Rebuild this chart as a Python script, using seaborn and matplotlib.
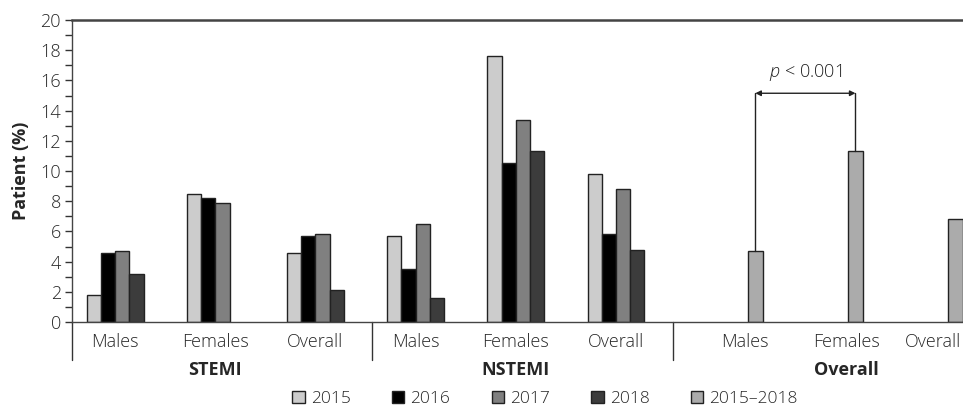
import numpy as np
import pandas as pd
import matplotlib.pyplot as plt
import matplotlib.transforms as mtransforms
from matplotlib.patches import Patch
import seaborn as sns

# data (patient %)
GROUPS = ["STEMI", "NSTEMI", "Overall"]
SUBGROUPS = ["Males", "Females", "Overall"]
YEARS = ["2015", "2016", "2017", "2018"]
POOLED = "2015–2018"

stemi_2015 = [1.8, 8.5, 4.6]
stemi_2016 = [4.6, 8.2, 5.7]
stemi_2017 = [4.7, 7.9, 5.8]
stemi_2018 = [3.2, np.nan, 2.1]

nstemi_2015 = [5.7, 17.6, 9.8]
nstemi_2016 = [3.5, 10.5, 5.8]
nstemi_2017 = [6.5, 13.4, 8.8]
nstemi_2018 = [1.6, 11.3, 4.8]

overall_2015_2018 = [4.7, 11.3, 6.8]

COLORS = {"2015": "#cccccc", "2016": "#000000", "2017": "#808080",
          "2018": "#3c3c3c", POOLED: "#ababab"}

# the pooled bars sit in the last slot of a 5-wide cluster
POOLED_OFFSET = 0.39

keys = [f"{g}|{s}" for g in GROUPS for s in SUBGROUPS]

rows = []
yearly = {
    "STEMI": [stemi_2015, stemi_2016, stemi_2017, stemi_2018],
    "NSTEMI": [nstemi_2015, nstemi_2016, nstemi_2017, nstemi_2018],
}
for grp, series in yearly.items():
    for year, vals in zip(YEARS, series):
        for sub, v in zip(SUBGROUPS, vals):
            rows.append({"key": f"{grp}|{sub}", "series": year, "value": v})
df_years = pd.DataFrame(rows).dropna()
df_pooled = pd.DataFrame({"key": [f"Overall|{s}" for s in SUBGROUPS],
                          "series": POOLED, "value": overall_2015_2018})

sns.set_style("ticks")
plt.rcParams["font.family"] = ["Open Sans", "DejaVu Sans"]
plt.rcParams["mathtext.fontset"] = "custom"
plt.rcParams["mathtext.it"] = "Open Sans:italic:light"
plt.rcParams["mathtext.rm"] = "Open Sans:light"

fig = plt.figure(figsize=(9.63, 4.12), dpi=100)
ax = fig.add_axes([0.0748, 0.2184, 0.9252, 0.733])

sns.barplot(data=df_years, x="key", y="value", hue="series", order=keys,
            hue_order=YEARS, palette=COLORS, width=0.567, errorbar=None,
            edgecolor="#222222", linewidth=1, legend=False, ax=ax)
sns.barplot(data=df_pooled, x="key", y="value", hue="series", order=keys,
            hue_order=[POOLED], palette=COLORS, width=0.147, errorbar=None,
            edgecolor="#222222", linewidth=1, legend=False, ax=ax)
pooled = ax.containers[-1]
for bar in pooled.patches:
    bar.set_x(bar.get_x() + POOLED_OFFSET)

ax.set_xlim(-0.43, 8.463)
ax.set_ylim(0, 20)
ax.set_yticks(range(0, 21, 2))
ax.set_yticks(range(0, 21), minor=True)
ax.tick_params(axis="y", which="both", direction="out", length=5, width=1,
               color="#333333", labelsize=13, pad=3)
ax.tick_params(axis="x", length=0, labelsize=13, pad=8)
ax.set_xticks(range(len(keys)))
ax.set_xticklabels(SUBGROUPS * 3)
for lab in ax.get_xticklabels() + ax.get_yticklabels():
    lab.set_fontweight("light")
ax.set_xlabel("")
ax.set_ylabel("Patient (%)", fontsize=13, fontweight="bold", labelpad=7)

# shift labels of the pooled section to sit under its bars
for lab, dx in zip(ax.get_xticklabels()[6:], [0.29, 0.30, 0.16]):
    shift = mtransforms.ScaledTranslation(dx, 0, fig.dpi_scale_trans)
    lab.set_transform(lab.get_transform() + shift)

for side in ["top", "left", "bottom"]:
    ax.spines[side].set_color("#444444")
ax.spines["top"].set_linewidth(1.8)
ax.spines["left"].set_linewidth(1)
ax.spines["bottom"].set_linewidth(1)
ax.spines["right"].set_visible(False)

# group separators below the axis
trans = ax.get_xaxis_transform()
for xs in [-0.43, 2.565, 5.57]:
    ax.plot([xs, xs], [0, -0.126], transform=trans, color="#333333",
            lw=1, clip_on=False)
for i, grp in enumerate(GROUPS):
    x = 3 * i + 1 + (0.3 if grp == "Overall" else 0)
    ax.text(x, -0.16, grp, transform=trans, ha="center", va="center",
            fontsize=13, fontweight="bold")

# significance bracket between pooled males and females
b_m, b_f = pooled.patches[0], pooled.patches[1]
x1 = b_m.get_x() + b_m.get_width() / 2
x2 = b_f.get_x() + b_f.get_width() / 2
y_br = 15.15
ax.plot([x1, x1], [b_m.get_height(), y_br], color="#222222", lw=1)
ax.plot([x2, x2], [b_f.get_height(), y_br], color="#222222", lw=1)
ax.annotate("", xy=(x1, y_br), xytext=(x2, y_br),
            arrowprops=dict(arrowstyle="<|-|>", color="#222222", lw=1,
                            mutation_scale=8, shrinkA=0, shrinkB=0))
ax.text((x1 + x2) / 2, 16.5, "$p$ < 0.001", ha="center", va="center",
        fontsize=13, fontweight="light", color="#222222")

handles = [Patch(facecolor=COLORS[s], edgecolor="#222222", linewidth=1, label=s)
           for s in YEARS + [POOLED]]
leg = fig.legend(handles=handles, loc="center", bbox_to_anchor=(0.566, 0.032),
                 ncol=5, frameon=False, fontsize=12.5, handlelength=0.7,
                 handleheight=0.7, handletextpad=0.35, columnspacing=2.4)
for t in leg.get_texts():
    t.set_fontweight("light")

fig.savefig("out.png", dpi=100)
